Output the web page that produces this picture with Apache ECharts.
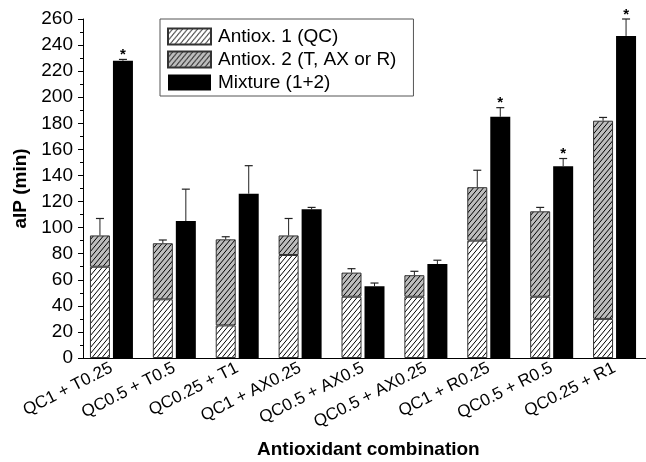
<!DOCTYPE html>
<html>
<head>
<meta charset="utf-8">
<script src="https://cdn.jsdelivr.net/npm/echarts@6/dist/echarts.min.js"></script>
<style>
  html, body { margin: 0; padding: 0; background: #fff; }
  #chart { width: 646px; height: 462px; }
</style>
</head>
<body>
<div id="chart"></div>
<script>
// Antioxidant combinations and their induction periods (min)
const categories = ['QC1 + T0.25', 'QC0.5 + T0.5', 'QC0.25 + T1', 'QC1 + AX0.25', 'QC0.5 + AX0.5',
                    'QC0.5 + AX0.25', 'QC1 + R0.25', 'QC0.5 + R0.5', 'QC0.25 + R1'];
const antiox1 = [70, 45, 25, 79, 47, 47, 90, 47, 30];
const antiox2 = [24, 43, 66, 15, 18.5, 16.5, 41, 65.5, 152];
const mixture = [228, 105, 126, 114, 55, 72, 185, 147, 247];
// upper error (SD) of the stacked total and of the mixture
const stackErr = [13, 2.5, 2, 13, 3, 3, 13, 3, 2.5];
const mixErr = [1, 24.5, 21.5, 1.5, 2.5, 3, 7, 6, 13];
// significance marks above the mixture bars
const mixMark = ['*', '', '', '', '', '', '*', '*', '*'];
const yTicks = { min: 0, max: 260, step: 20 };

const FONT = '"Liberation Sans", Arial, Helvetica, sans-serif';
const BAR_W = 20, BAR_GAP = 3;
const OFF = (BAR_W + BAR_GAP) / 2;

function hatch(bg) {
  const w = 5, h = 6;
  const c = document.createElement('canvas');
  c.width = w; c.height = h;
  const g = c.getContext('2d');
  g.fillStyle = bg;
  g.fillRect(0, 0, w, h);
  g.strokeStyle = '#000';
  g.lineWidth = 1;
  for (let k = -1; k <= 3; k++) {
    g.beginPath();
    g.moveTo(k * w + w * 0.5, -h * 0.5);
    g.lineTo((k - 1) * w - w * 0.5, h * 1.5);
    g.stroke();
  }
  return { image: c, repeat: 'repeat' };
}

const stackTotals = antiox1.map((v, i) => v + antiox2[i]);

function errItem(offset, tops, errs, marks) {
  return function (params, api) {
    const i = api.value(0);
    const base = tops[i], e = errs[i];
    const p0 = api.coord([i, base]);
    const p1 = api.coord([i, base + e]);
    const x = p0[0] + offset;
    const children = [
      { type: 'line', shape: { x1: x, y1: p0[1], x2: x, y2: p1[1] },
        style: { stroke: '#222', lineWidth: 1 } },
      { type: 'line', shape: { x1: x - 4, y1: p1[1], x2: x + 4, y2: p1[1] },
        style: { stroke: '#222', lineWidth: 1.2 } }
    ];
    if (marks && marks[i]) {
      children.push({ type: 'text', style: { x: x, y: p1[1] + 3, text: marks[i],
        font: 'bold 15px ' + FONT, fill: '#000', align: 'center', verticalAlign: 'bottom' } });
    }
    return { type: 'group', children };
  };
}

const chart = echarts.init(document.getElementById('chart'), null, { renderer: 'canvas' });
chart.setOption({
  animation: false,
  backgroundColor: '#fff',
  grid: { left: 80, top: 19, width: 582, height: 339, containLabel: false },
  legend: {
    orient: 'vertical', left: 160, top: 19,
    padding: [8, 17, 4, 7], itemGap: 4, itemWidth: 43, itemHeight: 16,
    borderColor: '#555', borderWidth: 1,
    textStyle: { fontFamily: FONT, fontSize: 19, color: '#000', padding: [0, 0, 0, 2] },
    data: [
      { name: 'Antiox. 1 (QC)', icon: 'rect' },
      { name: 'Antiox. 2 (T, AX or R)', icon: 'rect' },
      { name: 'Mixture (1+2)', icon: 'rect' }
    ]
  },
  xAxis: {
    type: 'category', data: categories,
    axisLine: { lineStyle: { color: '#000', width: 1 } },
    axisTick: { show: false },
    axisLabel: { interval: 0, rotate: 27, margin: 9, fontFamily: FONT, fontSize: 17, color: '#000' }
  },
  yAxis: {
    type: 'value', min: yTicks.min, max: yTicks.max, interval: yTicks.step, offset: -3,
    name: 'aIP (min)', nameLocation: 'middle', nameGap: 52,
    nameTextStyle: { fontFamily: FONT, fontSize: 19, fontWeight: 'bold', color: '#000' },
    axisLine: { show: true, lineStyle: { color: '#000', width: 1 } },
    axisTick: { show: true, length: 5, lineStyle: { color: '#000' } },
    minorTick: { show: true, splitNumber: 2, length: 3, lineStyle: { color: '#000' } },
    splitLine: { show: false },
    axisLabel: { fontFamily: FONT, fontSize: 19, color: '#000', margin: 10 }
  },
  graphic: [{
    type: 'text', left: 257, top: 440,
    style: { text: 'Antioxidant combination', font: 'bold 19px ' + FONT, fill: '#000' }
  }],
  series: [
    {
      name: 'Antiox. 1 (QC)', type: 'bar', stack: 'single', data: antiox1,
      barWidth: BAR_W, barGap: (BAR_GAP / BAR_W * 100) + '%',
      itemStyle: { color: hatch('#ffffff'), borderColor: '#333', borderWidth: 1 }
    },
    {
      name: 'Antiox. 2 (T, AX or R)', type: 'bar', stack: 'single', data: antiox2,
      barWidth: BAR_W,
      itemStyle: { color: hatch('#bdbdbd'), borderColor: '#333', borderWidth: 1 }
    },
    {
      name: 'Mixture (1+2)', type: 'bar', data: mixture, barWidth: BAR_W,
      itemStyle: { color: '#000', borderColor: '#000', borderWidth: 0 }
    },
    {
      type: 'custom', z: 5, silent: true,
      data: categories.map((c, i) => [i]),
      renderItem: errItem(-OFF, stackTotals, stackErr, null)
    },
    {
      type: 'custom', z: 5, silent: true,
      data: categories.map((c, i) => [i]),
      renderItem: errItem(OFF, mixture, mixErr, mixMark)
    }
  ]
});
</script>
</body>
</html>
